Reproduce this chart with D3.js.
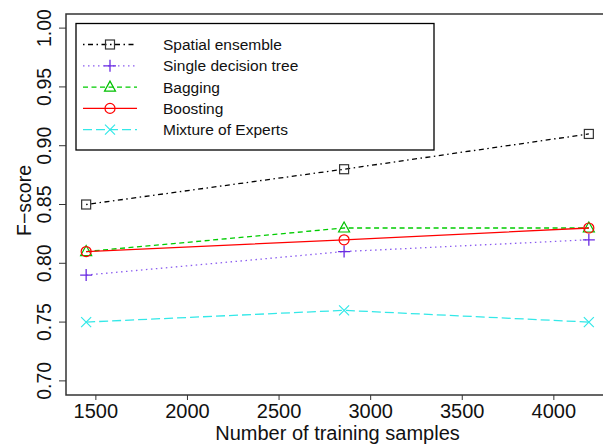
<!DOCTYPE html>
<html>
<head>
<meta charset="utf-8">
<script src="https://cdn.jsdelivr.net/npm/d3@7"></script>
<style>
  body { margin: 0; background: #fff; }
  svg { display: block; font-family: "Liberation Sans", Arial, sans-serif; }
</style>
</head>
<body>
<svg width="603" height="444"></svg>
<script>
const width = 603, height = 444;

// data
const samples = [1447, 2855, 4191];
const seriesNames = ["Spatial ensemble", "Single decision tree", "Bagging", "Boosting", "Mixture of Experts"];
const spatial = [0.85, 0.88, 0.91];
const singleTree = [0.79, 0.81, 0.82];
const bagging = [0.81, 0.83, 0.83];
const boosting = [0.81, 0.82, 0.83];
const mixture = [0.75, 0.76, 0.75];
const xTicks = [1500, 2000, 2500, 3000, 3500, 4000];
const yTicks = [0.70, 0.75, 0.80, 0.85, 0.90, 0.95, 1.00];

const styles = [
    { values: spatial, color: "#000", dash: "1.5 3.5 5 3.5", shape: "square", markColor: "#333" },
    { values: singleTree, color: "#8a5cf0", dash: "1.5 3.5", shape: "plus", markColor: "#6a2be2" },
    { values: bagging, color: "#00cc00", dash: "5 3.5", shape: "triangle", markColor: "#00c000" },
    { values: boosting, color: "#ff0000", dash: null, shape: "circle", markColor: "#ff0000" },
    { values: mixture, color: "#33e8e8", dash: "9 4", shape: "cross", markColor: "#33e8e8" }
];

const svg = d3.select("svg");
const margin = { left: 66, top: 14, right: 609, bottom: 395 };

// R style 4% padding around data range
const x = d3.scaleLinear().domain([1337, 4301]).range([margin.left, margin.right]);
const y = d3.scaleLinear().domain([0.688, 1.012]).range([margin.bottom, margin.top]);

// plot box
svg.append("rect")
    .attr("x", margin.left)
    .attr("y", margin.top)
    .attr("width", margin.right - margin.left)
    .attr("height", margin.bottom - margin.top)
    .attr("fill", "none")
    .attr("stroke", "#333")
    .attr("stroke-width", 1.5);

// x axis
svg.selectAll(".xtick")
    .data(xTicks)
    .enter().append("line")
    .attr("x1", d => x(d)).attr("x2", d => x(d))
    .attr("y1", margin.bottom).attr("y2", margin.bottom + 5)
    .attr("stroke", "#333");

svg.selectAll(".xlabel")
    .data(xTicks)
    .enter().append("text")
    .attr("x", d => x(d))
    .attr("y", 418)
    .attr("text-anchor", "middle")
    .attr("font-size", "20px")
    .attr("fill", "#111")
    .text(d => d);

svg.append("text")
    .attr("x", (margin.left + margin.right) / 2)
    .attr("y", 440)
    .attr("text-anchor", "middle")
    .attr("font-size", "20px")
    .attr("fill", "#111")
    .text("Number of training samples");

// y axis
svg.selectAll(".ytick")
    .data(yTicks)
    .enter().append("line")
    .attr("x1", margin.left - 7).attr("x2", margin.left)
    .attr("y1", d => y(d)).attr("y2", d => y(d))
    .attr("stroke", "#333");

svg.selectAll(".ylabel")
    .data(yTicks)
    .enter().append("text")
    .attr("transform", d => `translate(51,${y(d)}) rotate(-90)`)
    .attr("text-anchor", "middle")
    .attr("font-size", "19.5px")
    .attr("fill", "#111")
    .text(d => d.toFixed(2));

svg.append("text")
    .attr("transform", `translate(31,${(margin.top + margin.bottom) / 2 - 4}) rotate(-90)`)
    .attr("text-anchor", "middle")
    .attr("font-size", "19.5px")
    .attr("fill", "#111")
    .text("F\u2212score");

// marker drawing
function drawMarker(g, shape, cx, cy, color) {
    if (shape === "square") {
        g.append("rect").attr("x", cx - 4.5).attr("y", cy - 4.5)
            .attr("width", 9).attr("height", 9)
            .attr("fill", "none").attr("stroke", color).attr("stroke-width", 1.2);
    } else if (shape === "plus") {
        g.append("path").attr("d", `M${cx - 6},${cy}H${cx + 6}M${cx},${cy - 6}V${cy + 6}`)
            .attr("stroke", color).attr("stroke-width", 1.3);
    } else if (shape === "triangle") {
        g.append("path").attr("d", `M${cx},${cy - 6}L${cx + 5.5},${cy + 4}L${cx - 5.5},${cy + 4}Z`)
            .attr("fill", "none").attr("stroke", color).attr("stroke-width", 1.2);
    } else if (shape === "circle") {
        g.append("circle").attr("cx", cx).attr("cy", cy).attr("r", 5)
            .attr("fill", "none").attr("stroke", color).attr("stroke-width", 1.2);
    } else if (shape === "cross") {
        g.append("path").attr("d", `M${cx - 5},${cy - 5}L${cx + 5},${cy + 5}M${cx - 5},${cy + 5}L${cx + 5},${cy - 5}`)
            .attr("stroke", color).attr("stroke-width", 1.2);
    }
}

const line = d3.line()
    .x((d, i) => x(samples[i]))
    .y(d => y(d));

styles.forEach(s => {
    const g = svg.append("g");
    g.append("path")
        .datum(s.values)
        .attr("d", line)
        .attr("fill", "none")
        .attr("stroke", s.color)
        .attr("stroke-width", 1.3)
        .attr("stroke-dasharray", s.dash);
    s.values.forEach((v, i) => drawMarker(g, s.shape, x(samples[i]), y(v), s.markColor));
});

// legend
const legend = svg.append("g");
legend.append("rect")
    .attr("x", 76).attr("y", 23.5)
    .attr("width", 358).attr("height", 126.5)
    .attr("fill", "#fff")
    .attr("stroke", "#000")
    .attr("stroke-width", 1.3);

styles.forEach((s, i) => {
    const ly = 44.5 + i * 21.3;
    legend.append("line")
        .attr("x1", 83).attr("x2", 137)
        .attr("y1", ly).attr("y2", ly)
        .attr("stroke", s.color)
        .attr("stroke-width", 1.3)
        .attr("stroke-dasharray", s.dash);
    drawMarker(legend, s.shape, 110, ly, s.markColor);
    legend.append("text")
        .attr("x", 163)
        .attr("y", ly + 5.5)
        .attr("font-size", "15.5px")
        .attr("fill", "#111")
        .text(seriesNames[i]);
});
</script>
</body>
</html>
